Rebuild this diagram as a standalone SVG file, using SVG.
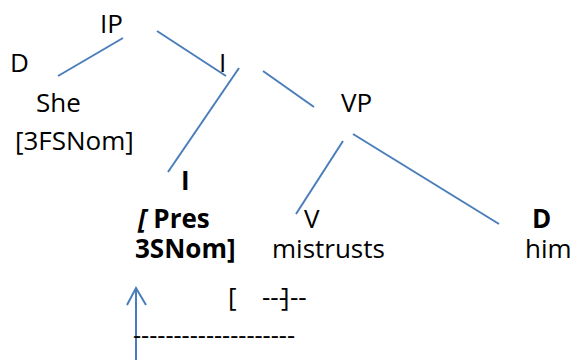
<svg xmlns="http://www.w3.org/2000/svg" width="573" height="360" viewBox="0 0 573 360">
<style>
text{font-family:"Open Sans","Liberation Sans",sans-serif;font-size:26px;fill:#000}
.b{font-weight:bold}
.e{stroke:#4a7ebb;stroke-width:2;fill:none}
</style>
<rect width="573" height="360" fill="#fff"/>
<g id="connectors">
<line class="e" x1="123" y1="38" x2="58" y2="76"/>
<line class="e" x1="157" y1="31" x2="226" y2="76"/>
<line class="e" x1="263" y1="71" x2="314" y2="107"/>
<line class="e" x1="239" y1="68" x2="168" y2="172"/>
<line class="e" x1="343" y1="141" x2="296" y2="214"/>
<line class="e" x1="353" y1="134" x2="499" y2="224"/>
<line class="e" x1="136" y1="289" x2="136" y2="360"/>
<polyline class="e" points="127,305 136,288 146,305"/>
</g>
<g id="IP"><text x="100" y="33">IP</text></g>
<g id="D1"><text x="10" y="72">D</text><text x="36" y="112">She</text><text x="15" y="150">[3FSNom]</text></g>
<g id="I1"><text x="219" y="72">I</text></g>
<g id="VP"><text x="341" y="112">VP</text></g>
<g id="I2"><text class="b" x="181" y="190">I</text><text class="b"><tspan x="138" y="228"><tspan font-style="italic">[</tspan> Pres</tspan><tspan x="135" y="258">3SNom]</tspan></text></g>
<g id="V"><text x="304" y="228">V</text><text x="272" y="258">mistrusts</text></g>
<g id="D2"><text class="b" x="532" y="228">D</text><text x="525" y="258">him</text></g>
<g id="notes">
<text y="306"><tspan x="228">[</tspan><tspan x="262">---</tspan><tspan x="281">]</tspan><tspan x="290">--</tspan></text>
<text x="133" y="344" textLength="162" lengthAdjust="spacingAndGlyphs">--------------------</text>
</g>
</svg>
